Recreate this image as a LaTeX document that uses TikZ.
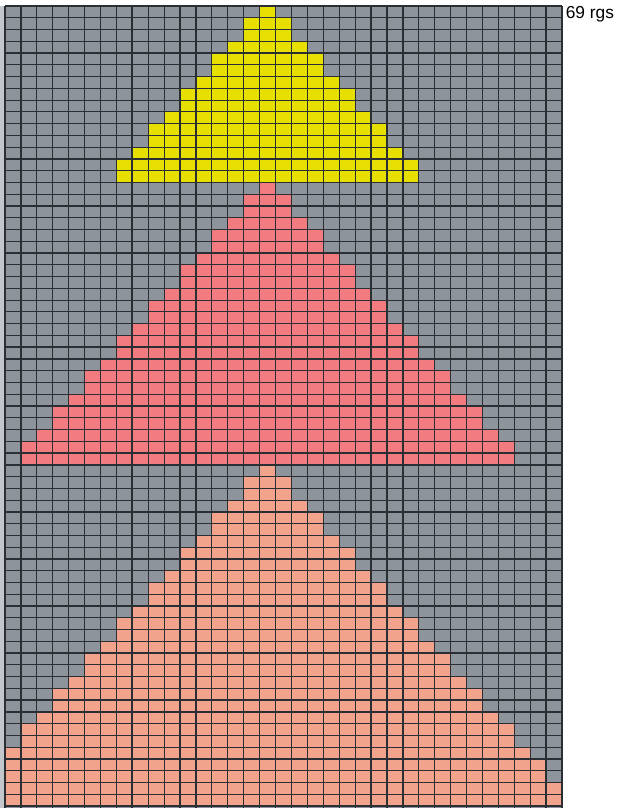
\documentclass[tikz,border=0pt]{standalone}
\usepackage{fontspec}
\setmainfont{Liberation Sans}
\definecolor{ChartGrey}{HTML}{8E949C}
\definecolor{ChartEdge}{HTML}{C3C6CA}
\definecolor{ChartYellow}{HTML}{E7DF00}
\definecolor{ChartPink}{HTML}{F27B7F}
\definecolor{ChartSalmon}{HTML}{F1A38B}
\definecolor{ChartLine}{HTML}{2B2F33}

\begin{document}
\begin{tikzpicture}[x=0.75pt,y=-0.75pt,
    gridline/.style={draw=ChartLine,line width=0.9pt},
    majorline/.style={draw=ChartLine,line width=1.25pt}]
  \useasboundingbox (0,0) rectangle (619,811);
  \def\gx{5}\def\gy{6}\def\gr{562}\def\gb{808}
  \def\cw{15.914}\def\rh{11.765}
  % background of the chart
  \fill[ChartEdge] (0,\gy) rectangle (\gx,\gb);
  \fill[ChartGrey] (\gx,\gy) rectangle (\gr,\gb);
  % three stacked triangles, apex on column 16
  \foreach \first/\rows/\shade in {0/15/ChartYellow,15/24/ChartPink,39/29/ChartSalmon}{
    \pgfmathtruncatemacro\last{\rows-1}
    \foreach \i in {0,...,\last}{
      \pgfmathtruncatemacro\half{2*floor(\i/3)+ifthenelse(mod(\i,3)>0,1,0)}
      \pgfmathtruncatemacro\lo{max(16-\half,0)}
      \pgfmathtruncatemacro\hi{min(16+\half,34)+1}
      \fill[\shade] ({\gx+\lo*\cw},{\gy+(\first+\i)*\rh})
        rectangle ({\gx+\hi*\cw},{\gy+(\first+\i+1)*\rh});
    }
  }
  % grid
  \foreach \c in {0,...,35}
    \draw[gridline] ({\gx+\c*\cw},\gy) -- ({\gx+\c*\cw},\gb);
  \foreach \r in {0,...,68}
    \draw[gridline] (\gx,{\gy+\r*\rh}) -- (\gr,{\gy+\r*\rh});
  \foreach \r in {15,29,39,49,59}
    \draw[majorline] (\gx,{\gy+\r*\rh}) -- (\gr,{\gy+\r*\rh});
  \foreach \c in {8,17,25}
    \draw[majorline] ({\gx+\c*\cw},\gy) -- ({\gx+\c*\cw},\gb);
  % row count
  \node[anchor=base west,inner sep=0pt,font=\fontsize{13}{15}\selectfont]
    (rowcount) at (565.5,18.5) {69 rgs};
\end{tikzpicture}
\end{document}
